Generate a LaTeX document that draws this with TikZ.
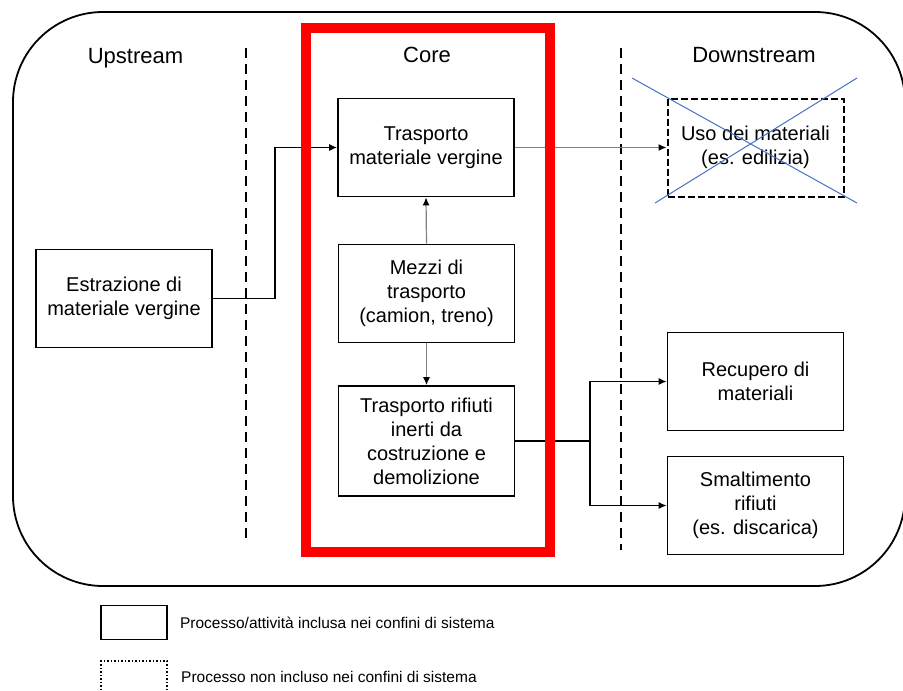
\documentclass[tikz,border=0pt]{standalone}
\usepackage{fontspec}
\setmainfont{Liberation Sans}
\usetikzlibrary{arrows.meta,positioning}

\tikzset{
    procbox/.style={draw=black, line width=1.8pt, minimum width=176pt, minimum height=98pt,
        align=center, inner sep=2pt, font=\fontsize{20}{24}\selectfont},
    outbox/.style={procbox, line width=2pt, dash pattern=on 7pt off 3pt},
    conn/.style={line width=1.2pt, -{Latex[length=8pt,width=7pt,black]}},
    greyconn/.style={conn, draw=black!50},
    phase/.style={anchor=base, font=\fontsize{22}{26}\selectfont},
    divider/.style={line width=1.8pt, dash pattern=on 10pt off 6pt},
    legtext/.style={inner sep=0pt, anchor=west, font=\fontsize{15.5}{18}\selectfont}
}
\definecolor{crossblue}{HTML}{4472C4}

\begin{document}
\begin{tikzpicture}[x=1pt,y=-1pt]
    \useasboundingbox (0,0) rectangle (903,691);

    % system boundary
    \draw[line width=1.8pt, rounded corners=90pt] (13,12) rectangle (905,586);

    % phases
    \node[phase] (up) at (135.5,63) {Upstream};
    \node[phase] (core) at (427,62) {Core};
    \node[phase] (down) at (754,62) {Downstream};
    \draw[divider] (246,48) -- (246,540);
    \draw[divider] (621,48) -- (621,550);

    % processes
    \node[procbox] (estr) at (124,298.5) {Estrazione di\\materiale vergine};
    \node[procbox] (trasp) at (426,147.5) {Trasporto\\materiale vergine};
    \node[procbox] (mezzi) at (426.5,293.5) {Mezzi di\\trasporto\\(camion, treno)};
    \node[procbox, minimum height=110pt] (rifiuti) at (426.5,441) {Trasporto rifiuti\\inerti da\\costruzione e\\demolizione};
    \node[outbox] (uso) at (755.5,147.5) {Uso dei materiali\\(es. edilizia)};
    \node[procbox] (recup) at (755.5,381.5) {Recupero di\\materiali};
    \node[procbox] (smalt) at (755.5,505.5) {Smaltimento\\rifiuti\\(es. discarica)};

    % excluded
    \draw[crossblue, line width=1pt] (632,78) -- (857,203);
    \draw[crossblue, line width=1pt] (655,203) -- (857,78);

    % flows
    \coordinate (bend) at (275,147.5);
    \coordinate (fork) at (590,441);
    \draw[conn] (estr.east) -| (bend) -- (trasp.west);
    \draw[greyconn] (trasp.east) -- (uso.west);
    \draw[greyconn] (mezzi.north) -- (trasp.south);
    \draw[greyconn] (mezzi.south) -- (rifiuti.north);
    \draw[line width=1.2pt] (rifiuti.east) -- (fork);
    \draw[conn] (fork) |- (recup.west);
    \draw[conn] (fork) |- (smalt.west);

    % core boundary
    \draw[red, line width=10pt] (306,27.5) rectangle (550,552);

    % legend
    \node[draw=black, line width=1.8pt, minimum width=66pt, minimum height=34pt] (legin) at (134,622.5) {};
    \node[legtext, right=12pt of legin] (legintext) {Processo/attività inclusa nei confini di sistema};
    \node[draw=black, line width=1.5pt, dotted, minimum width=66pt, minimum height=40pt] (legout) at (134,681) {};
    \node[legtext] (legouttext) at (181,677) {Processo non incluso nei confini di sistema};
\end{tikzpicture}
\end{document}
